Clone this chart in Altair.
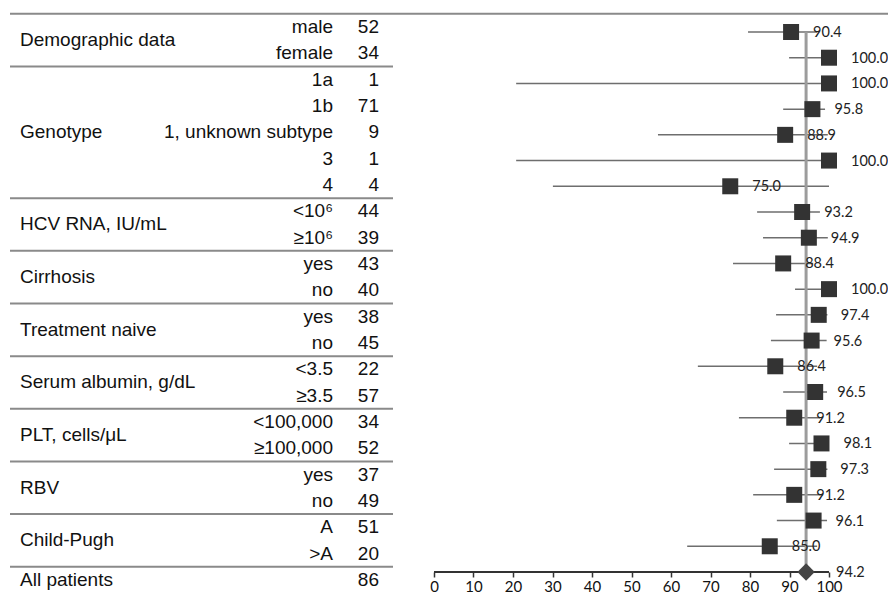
import altair as alt
import pandas as pd

# ---------------- data ----------------
group_names = ["Demographic data", "Genotype", "HCV RNA, IU/mL", "Cirrhosis",
               "Treatment naive", "Serum albumin, g/dL", "PLT, cells/μL", "RBV",
               "Child-Pugh", "All patients"]
group_sizes = [2, 5, 2, 2, 2, 2, 2, 2, 2, 1]
subgroups = ["male", "female", "1a", "1b", "1, unknown subtype", "3", "4",
             "<10⁶", "≥10⁶", "yes", "no", "yes", "no", "<3.5", "≥3.5",
             "<100,000", "≥100,000", "yes", "no", "A", ">A", ""]
n_patients = [52, 34, 1, 71, 9, 1, 4, 44, 39, 43, 40, 38, 45, 22, 57,
              34, 52, 37, 49, 51, 20, 86]
rates = [90.4, 100.0, 100.0, 95.8, 88.9, 100.0, 75.0, 93.2, 94.9, 88.4, 100.0,
         97.4, 95.6, 86.4, 96.5, 91.2, 98.1, 97.3, 91.2, 96.1, 85.0, 94.2]
ci_low = [79.5, 89.9, 20.8, 88.4, 56.7, 20.8, 30.1, 81.8, 83.3, 75.7, 91.4,
          86.6, 85.3, 66.8, 88.4, 77.2, 89.9, 86.1, 80.8, 86.8, 64.1]
ci_high = [97.0, 100.0, 100.0, 99.0, 99.7, 100.0, 100.0, 97.7, 99.7, 96.0, 100.0,
           99.6, 99.4, 97.0, 99.5, 97.7, 100.0, 99.6, 98.5, 99.5, 97.0]
axis_ticks = [0, 10, 20, 30, 40, 50, 60, 70, 80, 90, 100]

# ---------------- tables ----------------
nrows = len(subgroups)
rows = pd.DataFrame({
    "row": list(range(nrows)),
    "sub": subgroups,
    "n": [str(v) for v in n_patients],
    "rate": rates,
    "label": [f"{v:.1f}" for v in rates],
})
sub_rows = rows.iloc[:-1].copy()
sub_rows["lo"] = ci_low
sub_rows["hi"] = ci_high
total_row = rows.iloc[-1:].copy()

centers, seps = [], [-0.5]
r = 0
for size in group_sizes:
    centers.append(r + (size - 1) / 2)
    r += size
    if r < nrows:
        seps.append(r - 0.5)
groups = pd.DataFrame({"name": group_names, "center": centers})
sep_df = pd.DataFrame({"y": seps[1:]})
top_df = pd.DataFrame({"y": seps[:1]})
ref_df = pd.DataFrame({"v": [rates[-1]], "r0": [0], "r1": [nrows - 1]})
axis_df = pd.DataFrame({"a": [axis_ticks[0]], "b": [axis_ticks[-1]], "row": [nrows - 1]})

# ---------------- scales ----------------
ppu = 3.95
x0 = 426.0
W, H = 880, 564
XS = alt.Scale(domain=[-x0 / ppu, (W - x0) / ppu], nice=False, zero=False)
step_f = (H - 24) / (nrows - 1)
YF = alt.Scale(domain=[-24 / step_f, nrows - 1], reverse=True, nice=False, zero=False)
step_t = 26.33
YT = alt.Scale(domain=[-19 / step_t, (H - 19) / step_t], reverse=True, nice=False, zero=False)

TFONT = "Liberation Sans"
NFONT = "Lato"

XAXIS = alt.Axis(values=axis_ticks, domain=False, ticks=True, tickSize=5,
                 tickColor="#333333", tickWidth=1.5, grid=False,
                 labelFont=NFONT, labelFontSize=15, labelColor="#111111",
                 labelPadding=2, labelFlush=False, title="")


def xq(field):
    return alt.X(field, scale=XS, axis=XAXIS, title="")


axis_line = alt.Chart(axis_df).mark_rule(color="#333333", strokeWidth=2).encode(
    x=xq("a:Q"), x2="b",
    y=alt.Y("row:Q", scale=YF, axis=None),
)

ci = alt.Chart(sub_rows).mark_rule(color="#6e6e6e", strokeWidth=1.5).encode(
    x=xq("lo:Q"), x2="hi",
    y=alt.Y("row:Q", scale=YF, axis=None),
)

ref = alt.Chart(ref_df).mark_rule(color="#9c9c9c", strokeWidth=3).encode(
    x=xq("v:Q"),
    y=alt.Y("r0:Q", scale=YF, axis=None), y2="r1",
)

squares = alt.Chart(sub_rows).mark_square(size=256, color="#333333", opacity=1).encode(
    x=xq("rate:Q"),
    y=alt.Y("row:Q", scale=YF, axis=None),
)

diamond = alt.Chart(total_row).mark_point(shape="diamond", filled=True, size=300,
                                          color="#444444", opacity=1).encode(
    x=xq("rate:Q"),
    y=alt.Y("row:Q", scale=YF, axis=None),
)

labels = alt.Chart(sub_rows).mark_text(align="left", baseline="middle", dx=22, dy=1,
                                       font=NFONT, fontSize=14.5, color="#222222").encode(
    x=xq("rate:Q"),
    y=alt.Y("row:Q", scale=YF, axis=None),
    text="label:N",
)

total_label = alt.Chart(total_row).mark_text(align="left", baseline="middle", dx=30, dy=1,
                                             font=NFONT, fontSize=14.5, color="#222222").encode(
    x=xq("rate:Q"),
    y=alt.Y("row:Q", scale=YF, axis=None),
    text="label:N",
)

# ---------------- table ----------------
seps_layer = alt.Chart(sep_df).mark_rule(color="#8a8a8a", strokeWidth=2).encode(
    x=alt.value(2), x2=alt.value(385),
    y=alt.Y("y:Q", scale=YT, axis=None),
)
top_layer = alt.Chart(top_df).mark_rule(color="#8a8a8a", strokeWidth=2).encode(
    x=alt.value(2), x2=alt.value(W),
    y=alt.Y("y:Q", scale=YT, axis=None),
)
group_text = alt.Chart(groups).mark_text(align="left", baseline="middle", font=TFONT,
                                         fontSize=19, color="#111111").encode(
    x=alt.value(12),
    y=alt.Y("center:Q", scale=YT, axis=None),
    text="name:N",
)
sub_text = alt.Chart(rows).mark_text(align="right", baseline="middle", font=TFONT,
                                     fontSize=19, color="#111111").encode(
    x=alt.value(325),
    y=alt.Y("row:Q", scale=YT, axis=None),
    text="sub:N",
)
n_text = alt.Chart(rows).mark_text(align="right", baseline="middle", font=TFONT,
                                   fontSize=19, color="#111111").encode(
    x=alt.value(371),
    y=alt.Y("row:Q", scale=YT, axis=None),
    text="n:N",
)

chart = alt.layer(
    axis_line, ci, ref, squares, diamond, labels, total_label,
    seps_layer, top_layer, group_text, sub_text, n_text,
).resolve_scale(y="independent").properties(
    width=W, height=H,
    autosize=alt.AutoSizeParams(type="none"),
    padding={"left": 0, "top": 0, "right": 0, "bottom": 21},
    background="white",
).configure_view(stroke=None)

chart.save("out.html", embed_options={"renderer": "svg", "actions": False})
